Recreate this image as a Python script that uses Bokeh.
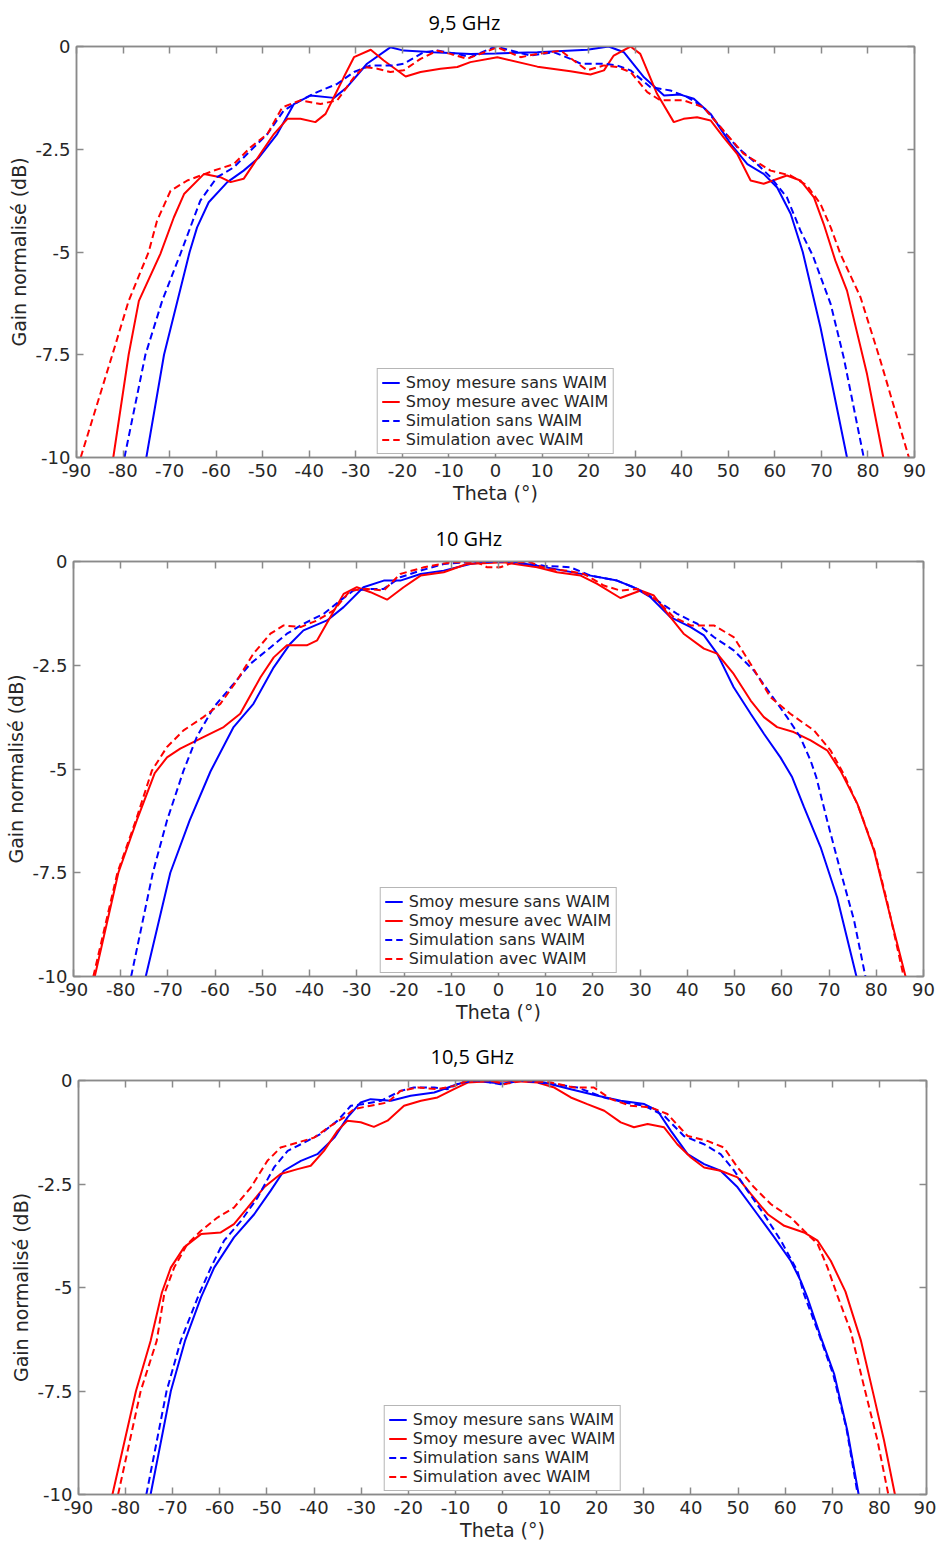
from bokeh.plotting import figure
from bokeh.models import FixedTicker, LinearAxis, CustomJSTickFormatter, Range1d
from bokeh.embed import file_html
from bokeh.resources import INLINE

# ---------------- data ----------------
X_TICKS = [-90, -80, -70, -60, -50, -40, -30, -20, -10, 0, 10, 20, 30, 40, 50, 60, 70, 80, 90]
X_TICK_LABELS = ["-90", "-80", "-70", "-60", "-50", "-40", "-30", "-20", "-10", "0",
                 "10", "20", "30", "40", "50", "60", "70", "80", "90"]
Y_TICKS = [-10, -7.5, -5, -2.5, 0]
Y_TICK_LABELS = ["-10", "-7.5", "-5", "-2.5", "0"]

TITLES = ["9,5 GHz", "10 GHz", "10,5 GHz"]
SERIES_NAMES = ["Smoy mesure sans WAIM", "Smoy mesure avec WAIM",
                "Simulation sans WAIM", "Simulation avec WAIM"]

# 9,5 GHz
TH_95_MS = [-75.0, -71.2, -65.7, -64.1, -61.6, -57.6, -54.1, -50.8, -46.9, -43.3, -39.7, -34.7, -31.9,
            -27.6, -22.6, -19.7, -13.3, -5.4, 0.0, 9.0, 19.7, 24.3, 27.6, 31.9, 36.2, 39.7, 42.6,
            46.2, 50.5, 54.1, 57.6, 60.5, 63.4, 66.0, 69.8, 75.5]
G_95_MS = [-10, -7.5, -5.0, -4.40, -3.79, -3.30, -3.02, -2.70, -2.13, -1.40, -1.19, -1.25, -0.99,
           -0.42, -0.02, -0.10, -0.14, -0.18, -0.17, -0.14, -0.08, 0.0, -0.14, -0.75, -1.19, -1.17, -1.27,
           -1.64, -2.37, -2.86, -3.10, -3.43, -4.07, -5.0, -6.83, -10]
TH_95_MA = [-82.1, -78.8, -76.6, -72.0, -69.1, -66.9, -62.6, -59.1, -56.9, -54.1, -50.5, -47.6, -44.7,
            -41.9, -38.7, -36.5, -34.7, -32.6, -30.4, -26.8, -24.0, -19.3, -16.1, -11.8, -8.2, -5.4,
            0.4, 9.0, 16.1, 20.4, 23.3, 25.4, 29.0, 31.1, 34.7, 38.3, 40.4, 43.3, 46.2, 49.0, 51.9,
            54.8, 57.6, 62.6, 65.5, 68.4, 70.5, 73.0, 75.5, 79.8, 83.3]
G_95_MA = [-10, -7.5, -6.19, -5.05, -4.16, -3.59, -3.10, -3.18, -3.30, -3.22, -2.61, -2.13, -1.76,
           -1.76, -1.84, -1.64, -1.23, -0.75, -0.26, -0.08, -0.34, -0.73, -0.62, -0.54, -0.50, -0.38,
           -0.26, -0.49, -0.60, -0.68, -0.58, -0.22, 0.0, -0.18, -1.15, -1.84, -1.76, -1.72, -1.80, -2.21, -2.61,
           -3.26, -3.34, -3.14, -3.26, -3.67, -4.32, -5.21, -5.94, -7.97, -10]
TH_95_SS = [-79.7, -75.2, -71.6, -67.7, -63.4, -59.8, -56.2, -52.6, -49.0, -45.5, -41.9, -38.3, -34.0,
            -30.4, -26.8, -21.8, -19.7, -15.4, -12.5, -8.2, -5.4, 0.0, 7.5, 12.5, 16.1, 18.3, 23.3,
            26.1, 29.0, 33.3, 37.6, 41.2, 44.7, 48.3, 51.9, 56.2, 59.1, 62.6, 65.5, 68.2, 72.0, 74.8, 79.1]
G_95_SS = [-10, -7.5, -6.19, -5.05, -3.75, -3.18, -2.94, -2.53, -2.13, -1.56, -1.31, -1.11, -0.91,
           -0.62, -0.46, -0.46, -0.42, -0.14, -0.10, -0.18, -0.26, 0.0, -0.22, -0.14, -0.30, -0.42, -0.42,
           -0.46, -0.58, -0.99, -1.07, -1.23, -1.48, -1.96, -2.45, -2.86, -3.18, -3.67, -4.48, -5.1, -6.27, -7.57, -10]
TH_95_SA = [-89.1, -82.3, -78.8, -74.5, -72.7, -69.8, -66.2, -60.5, -56.2, -52.6, -49.0, -45.8, -41.9,
            -37.6, -34.0, -30.4, -28.3, -25.4, -22.6, -19.7, -16.1, -12.5, -9.7, -6.1, 0.4, 5.4, 9.0,
            14.0, 16.8, 19.7, 23.3, 26.1, 29.0, 32.6, 35.4, 40.4, 44.7, 49.0, 53.3, 59.1, 63.4, 66.9,
            69.8, 72.0, 74.1, 78.4, 82.7, 88.8]
G_95_SA = [-10, -7.5, -6.19, -5.0, -4.24, -3.51, -3.26, -3.02, -2.86, -2.45, -2.13, -1.48, -1.31,
           -1.40, -1.31, -0.75, -0.50, -0.54, -0.62, -0.58, -0.30, -0.10, -0.18, -0.30, -0.02, -0.26, -0.18,
           -0.10, -0.34, -0.58, -0.46, -0.50, -0.62, -1.11, -1.31, -1.31, -1.48, -2.05, -2.61, -3.02, -3.14, -3.38,
           -3.83, -4.40, -5.05, -6.10, -7.65, -10]

# 10 GHz
TH_10_MS = [-74.7, -69.5, -65.4, -61.0, -56.1, -51.9, -47.6, -44.1, -41.3, -36.3, -32.8, -28.6, -24.3,
            -20.8, -16.5, -11.6, -6.0, -2.4, 2.5, 8.2, 13.8, 19.5, 25.1, 28.6, 32.2, 36.4, 40.7, 43.5,
            46.3, 49.8, 53.4, 56.2, 59.7, 62.2, 64.7, 68.2, 71.7, 75.8]
G_10_MS = [-10, -7.5, -6.24, -5.06, -3.99, -3.43, -2.55, -1.98, -1.66, -1.42, -1.10, -0.62, -0.46,
           -0.46, -0.30, -0.22, -0.06, 0.0, 0.0, -0.10, -0.22, -0.34, -0.46, -0.62, -0.86, -1.34, -1.58, -1.78,
           -2.22, -3.03, -3.67, -4.15, -4.72, -5.20, -5.92, -6.88, -8.09, -10]
TH_10_MA = [-85.5, -80.5, -76.6, -72.8, -70.2, -67.4, -62.5, -58.2, -54.7, -50.4, -47.6, -44.8, -40.6,
            -38.4, -35.6, -32.8, -30.0, -27.1, -23.6, -20.1, -16.5, -11.6, -6.7, 1.1, 8.2, 12.4, 17.4,
            20.9, 25.8, 30.1, 32.9, 36.4, 39.2, 43.5, 46.3, 49.8, 53.4, 56.2, 59.0, 62.5, 66.1, 69.6,
            72.4, 76.0, 79.5, 82.3, 86.2]
G_10_MA = [-10, -7.5, -6.24, -5.10, -4.72, -4.51, -4.23, -3.99, -3.67, -2.79, -2.31, -2.02, -2.02,
           -1.90, -1.34, -0.78, -0.62, -0.74, -0.92, -0.62, -0.34, -0.26, -0.06, -0.02, -0.14, -0.26, -0.34,
           -0.54, -0.88, -0.70, -0.82, -1.34, -1.74, -2.10, -2.22, -2.71, -3.35, -3.75, -3.99, -4.11, -4.31, -4.55,
           -5.04, -5.84, -6.96, -8.25, -10]
TH_10_SS = [-77.8, -73.2, -70.2, -66.7, -63.9, -60.3, -56.1, -52.6, -48.3, -44.8, -41.3, -37.0, -33.5,
            -30.7, -27.1, -24.3, -20.8, -16.5, -11.6, -6.7, 1.1, 9.6, 15.2, 19.5, 25.1, 29.4, 33.6,
            37.8, 42.1, 45.6, 49.8, 54.1, 57.6, 61.1, 63.9, 66.1, 67.3, 69.6, 72.4, 75.3, 77.7]
G_10_SS = [-10, -7.5, -6.24, -5.04, -4.23, -3.51, -2.95, -2.47, -2.07, -1.74, -1.50, -1.26, -0.94,
           -0.70, -0.66, -0.66, -0.38, -0.22, -0.06, -0.02, 0.0, -0.10, -0.14, -0.34, -0.46, -0.66, -0.94,
           -1.26, -1.50, -1.82, -2.14, -2.63, -3.19, -3.75, -4.23, -4.80, -5.2, -6.24, -7.45, -8.65, -10]
TH_10_SA = [-85.8, -80.7, -76.8, -73.4, -70.2, -66.7, -62.5, -58.9, -55.4, -51.9, -48.3, -45.5, -41.9,
            -38.4, -34.9, -31.4, -27.8, -24.3, -20.8, -15.8, -10.2, -4.5, -2.4, 0.4, 3.2, 6.8, 10.3,
            14.5, 18.1, 22.3, 25.8, 29.4, 33.6, 37.1, 40.7, 45.6, 49.8, 53.4, 57.6, 61.8, 66.8, 70.3,
            73.1, 76.2, 79.6, 82.3, 85.8]
G_10_SA = [-10, -7.5, -6.24, -5.04, -4.47, -4.07, -3.75, -3.43, -2.87, -2.22, -1.74, -1.54, -1.58,
           -1.42, -1.18, -0.70, -0.66, -0.70, -0.30, -0.14, -0.02, -0.02, -0.14, -0.14, -0.02, -0.02, -0.18,
           -0.22, -0.30, -0.58, -0.70, -0.66, -0.94, -1.34, -1.54, -1.54, -1.82, -2.47, -3.27, -3.67, -4.07, -4.55,
           -5.12, -5.9, -6.96, -8.2, -10]

# 10,5 GHz
TH_105_MS = [-74.7, -70.4, -67.4, -64.0, -61.2, -57.0, -52.7, -49.2, -46.4, -42.8, -39.3, -35.7, -32.9,
             -30.1, -28.0, -23.7, -19.5, -14.5, -9.6, -6.7, -2.5, 0.3, 4.6, 8.8, 14.5, 20.2, 25.1,
             30.1, 32.9, 35.7, 39.3, 42.8, 46.3, 49.9, 54.1, 57.7, 61.2, 63.3, 64.7, 67.6, 70.4, 73.2, 75.6]
G_105_MS = [-10, -7.5, -6.29, -5.24, -4.52, -3.79, -3.23, -2.66, -2.18, -1.94, -1.78, -1.38, -0.89,
            -0.53, -0.45, -0.49, -0.37, -0.29, -0.09, 0.0, -0.05, -0.07, 0.0, -0.05, -0.21, -0.37, -0.49,
            -0.57, -0.73, -1.21, -1.78, -2.02, -2.18, -2.58, -3.23, -3.79, -4.36, -4.84, -5.24, -6.21, -7.09, -8.46, -10]
TH_105_MA = [-82.8, -77.8, -74.7, -72.3, -70.4, -67.6, -64.0, -59.8, -57.0, -54.1, -50.6, -47.1, -43.5,
             -40.7, -37.9, -35.0, -32.9, -30.1, -27.3, -24.4, -20.9, -17.3, -13.8, -10.3, -7.4, 0.3, 7.4,
             11.0, 14.5, 18.0, 21.6, 25.1, 27.9, 30.8, 34.3, 37.1, 40.0, 42.8, 46.3, 49.9, 52.7, 56.3,
             59.8, 64.0, 66.9, 69.7, 72.8, 76.1, 78.9, 81.0, 83.3]
G_105_MA = [-10, -7.5, -6.29, -5.12, -4.52, -4.03, -3.71, -3.67, -3.47, -3.07, -2.58, -2.26, -2.14,
            -2.06, -1.70, -1.21, -0.97, -1.01, -1.12, -0.97, -0.61, -0.49, -0.41, -0.21, -0.05, 0.0, -0.05,
            -0.17, -0.41, -0.57, -0.73, -1.01, -1.13, -1.05, -1.13, -1.54, -1.86, -2.10, -2.18, -2.34, -2.74, -3.23,
            -3.51, -3.67, -3.87, -4.36, -5.1, -6.29, -7.66, -8.70, -10]
TH_105_SS = [-75.6, -71.3, -68.3, -64.4, -61.9, -59.1, -55.5, -52.0, -48.5, -45.6, -42.1, -38.6, -35.0,
             -32.2, -29.4, -25.8, -21.6, -18.8, -14.5, -11.7, -8.9, -4.6, -0.4, 3.9, 11.0, 15.9, 21.6,
             25.8, 30.1, 34.3, 38.5, 42.8, 46.3, 49.2, 52.0, 55.5, 59.1, 62.6, 64.0, 67.4, 70.2, 73.0, 75.4]
G_105_SS = [-10, -7.5, -6.29, -5.16, -4.52, -3.87, -3.39, -2.83, -2.10, -1.70, -1.50, -1.29, -0.97,
            -0.61, -0.57, -0.49, -0.25, -0.17, -0.17, -0.21, -0.05, 0.0, -0.09, 0.0, -0.09, -0.17, -0.41,
            -0.53, -0.61, -0.85, -1.34, -1.54, -1.78, -2.18, -2.66, -3.23, -3.87, -4.60, -5.16, -6.2, -7.1, -8.4, -10]
TH_105_SA = [-81.6, -76.8, -73.4, -71.8, -69.7, -66.9, -64.0, -60.5, -57.0, -53.4, -49.9, -47.1, -43.5,
             -40.0, -36.4, -33.6, -31.5, -28.0, -24.4, -21.6, -18.0, -13.8, -10.3, -7.4, -2.5, 0.3, 4.6,
             10.3, 15.2, 19.4, 23.0, 27.2, 31.5, 35.0, 39.3, 43.5, 47.0, 49.9, 53.4, 57.0, 61.2, 64.0,
             66.9, 69.0, 71.1, 73.9, 76.8, 79.6, 81.9]
G_105_SA = [-10, -7.5, -6.29, -5.16, -4.52, -3.95, -3.63, -3.31, -3.07, -2.58, -1.94, -1.62, -1.50,
            -1.38, -1.09, -0.89, -0.69, -0.61, -0.53, -0.25, -0.17, -0.21, -0.13, 0.0, 0.0, -0.09, 0.0,
            -0.05, -0.17, -0.17, -0.45, -0.61, -0.65, -0.81, -1.34, -1.46, -1.62, -2.10, -2.58, -2.99, -3.31, -3.63,
            -3.95, -4.52, -5.2, -6.05, -7.42, -8.70, -10]

# ---------------- styling ----------------
AXIS_COLOR = "#8a8a8a"
TEXT_COLOR = "#262626"
FONT = "DejaVu Sans"
COLORS = ["#0000ff", "#ff0000", "#0000ff", "#ff0000"]
DASHES = ["solid", "solid", "7 4", "7 4"]


def make_fig(title, data, width, height, left, right, top, bottom, title_offset, title_standoff):
    p = figure(width=width, height=height, x_range=Range1d(-90, 90), y_range=Range1d(-10, 0),
               output_backend="svg", toolbar_location=None,
               min_border_left=left, min_border_right=right,
               min_border_top=top, min_border_bottom=bottom)
    p.title.text = title
    p.title.align = "left"
    p.title.vertical_align = "top"
    p.title.text_font = "Open Sans"
    p.title.text_font_size = "20px"
    p.title.text_font_style = "normal"
    p.title.text_color = "#000000"
    p.title.offset = title_offset
    p.title.standoff = title_standoff

    p.grid.visible = False
    p.outline_line_color = AXIS_COLOR
    p.outline_line_width = 1.5
    p.background_fill_color = "white"
    p.border_fill_color = "white"

    p.xaxis.ticker = FixedTicker(ticks=X_TICKS)
    p.xaxis.major_label_overrides = dict(zip(X_TICKS, X_TICK_LABELS))
    p.yaxis.ticker = FixedTicker(ticks=Y_TICKS)
    p.yaxis.major_label_overrides = dict(zip(Y_TICKS, Y_TICK_LABELS))
    p.xaxis.axis_label = "Theta (°)"
    p.yaxis.axis_label = "Gain normalisé (dB)"

    for ax in (p.xaxis[0], p.yaxis[0]):
        ax.axis_line_color = AXIS_COLOR
        ax.axis_line_width = 1.5
        ax.major_tick_line_color = AXIS_COLOR
        ax.major_tick_line_width = 1.5
        ax.major_tick_in = 7
        ax.major_tick_out = 0
        ax.minor_tick_line_color = None
        ax.major_label_text_font = FONT
        ax.major_label_text_font_size = "18px"
        ax.major_label_text_color = TEXT_COLOR
        ax.major_label_standoff = 6
        ax.axis_label_text_font = FONT
        ax.axis_label_text_font_size = "19px"
        ax.axis_label_text_font_style = "normal"
        ax.axis_label_text_color = TEXT_COLOR
        ax.axis_label_standoff = 2

    empty = CustomJSTickFormatter(code="return ''")
    topax = LinearAxis(ticker=FixedTicker(ticks=X_TICKS), formatter=empty)
    rightax = LinearAxis(ticker=FixedTicker(ticks=Y_TICKS), formatter=empty)
    for ax in (topax, rightax):
        ax.axis_line_color = AXIS_COLOR
        ax.axis_line_width = 1.5
        ax.major_tick_line_color = AXIS_COLOR
        ax.major_tick_line_width = 1.5
        ax.major_tick_in = 7
        ax.major_tick_out = 0
        ax.minor_tick_line_color = None
        ax.major_label_standoff = 0
        ax.major_label_text_font_size = "1px"
    p.add_layout(topax, "above")
    p.add_layout(rightax, "right")

    for (th, g), name, c, d in zip(data, SERIES_NAMES, COLORS, DASHES):
        p.line(th, g, line_color=c, line_width=2, line_dash=d, legend_label=name)

    lg = p.legend[0]
    lg.location = "bottom_center"
    lg.margin = 3
    lg.padding = 4
    lg.spacing = 0
    lg.glyph_width = 18
    lg.glyph_height = 19
    lg.label_height = 19
    lg.label_standoff = 6
    lg.label_text_font = FONT
    lg.label_text_font_size = "16px"
    lg.label_text_color = TEXT_COLOR
    lg.border_line_color = "#6e6e6e"
    lg.border_line_width = 1
    lg.background_fill_color = "white"
    lg.background_fill_alpha = 1.0
    return p


# figure 1: rows 0..517, frame x 76..914, y 46..457
p1 = make_fig(TITLES[0], [(TH_95_MS, G_95_MS), (TH_95_MA, G_95_MA), (TH_95_SS, G_95_SS), (TH_95_SA, G_95_SA)],
              936, 517, 76, 22, 46, 60, 352, 17)
# figure 2: rows 517..1034, frame x 73..923, y 561..976
p2 = make_fig(TITLES[1], [(TH_10_MS, G_10_MS), (TH_10_MA, G_10_MA), (TH_10_SS, G_10_SS), (TH_10_SA, G_10_SA)],
              936, 517, 73, 13, 44, 58, 362, 15)
# figure 3: rows 1034..1544, frame x 78..926, y 1080..1494
p3 = make_fig(TITLES[2], [(TH_105_MS, G_105_MS), (TH_105_MA, G_105_MA), (TH_105_SS, G_105_SS), (TH_105_SA, G_105_SA)],
              936, 510, 78, 10, 46, 50, 352, 17)

open("out.html", "w").write(file_html([p1, p2, p3], INLINE))
